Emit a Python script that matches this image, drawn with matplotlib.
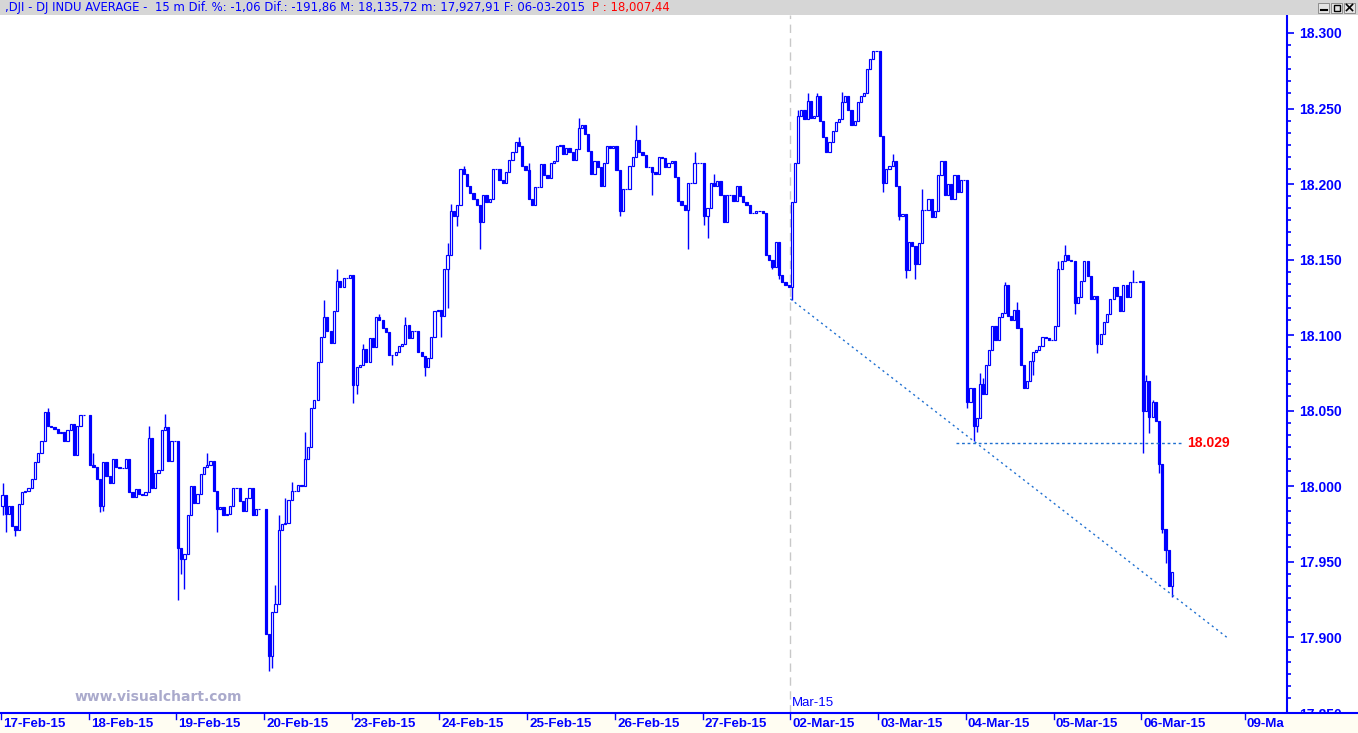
import matplotlib
matplotlib.use("Agg")
import matplotlib.pyplot as plt
from matplotlib.patches import Rectangle
from matplotlib.ticker import FixedLocator

# 15 minute bars, DJI 17-Feb-2015 .. 06-Mar-2015
day_labels = ["17-Feb-15", "18-Feb-15", "19-Feb-15", "20-Feb-15", "23-Feb-15",
              "24-Feb-15", "25-Feb-15", "26-Feb-15", "27-Feb-15", "02-Mar-15",
              "03-Mar-15", "04-Mar-15", "05-Mar-15", "06-Mar-15", "09-Ma"]

first_open = 17987
feb17 = [17994, 17982, 17987, 17974, 17971, 17988, 17996, 17997, 17999, 18005, 18016, 18022, 18030,
         18049, 18040, 18039, 18038, 18035, 18036, 18030, 18037, 18041, 18021, 18040, 18047, 18047]
feb18 = [18014, 18013, 18005, 17987, 18016, 18007, 18002, 18018, 18013, 18012, 18012, 18018, 17996,
         17993, 17998, 17995, 17994, 17996, 18032, 17999, 18009, 18011, 18037, 18039, 18017, 18030, 18030]
feb19 = [17959, 17952, 17955, 17981, 18000, 17989, 17995, 18008, 18013, 18014, 18017, 17997, 17985,
         17986, 17981, 17982, 17987, 17999, 17999, 17990, 17984, 17992, 17999, 17981, 17985, 17985]
feb20 = [17902, 17888, 17917, 17922, 17971, 17975, 17976, 17991, 17997, 17997, 18001, 18000, 18018,
         18026, 18052, 18057, 18082, 18099, 18112, 18103, 18095, 18116, 18136, 18132, 18138, 18138, 18140]
feb23 = [18067, 18079, 18080, 18091, 18082, 18098, 18092, 18112, 18110, 18105, 18102, 18087, 18087,
         18089, 18093, 18094, 18107, 18098, 18103, 18103, 18089, 18086, 18079, 18085, 18099, 18116, 18117]
feb24 = [18113, 18144, 18153, 18182, 18179, 18186, 18210, 18207, 18199, 18194, 18190, 18186, 18175,
         18193, 18188, 18190, 18210, 18210, 18203, 18201, 18208, 18216, 18221, 18228, 18225, 18212, 18209]
feb25 = [18190, 18186, 18198, 18198, 18213, 18206, 18204, 18214, 18215, 18225, 18226, 18220, 18224,
         18221, 18216, 18223, 18237, 18239, 18233, 18222, 18207, 18215, 18211, 18199, 18214, 18225, 18224, 18225]
feb26 = [18209, 18182, 18197, 18197, 18212, 18218, 18229, 18221, 18219, 18211, 18211, 18208, 18207,
         18218, 18217, 18211, 18214, 18215, 18205, 18189, 18186, 18183, 18201, 18201, 18214, 18214, 18214]
feb27 = [18179, 18184, 18201, 18199, 18202, 18193, 18175, 18193, 18193, 18189, 18199, 18192, 18188,
         18186, 18181, 18181, 18182, 18182, 18181, 18153, 18150, 18145, 18162, 18140, 18135, 18133, 18132]
mar02 = [18188, 18214, 18245, 18249, 18243, 18255, 18244, 18245, 18258, 18242, 18231, 18221, 18228,
         18235, 18241, 18243, 18254, 18258, 18249, 18239, 18242, 18254, 18258, 18260, 18276, 18283, 18288, 18288]
mar03 = [18232, 18201, 18210, 18212, 18215, 18199, 18179, 18180, 18143, 18162, 18159, 18147, 18161,
         18183, 18183, 18190, 18178, 18182, 18206, 18215, 18193, 18200, 18190, 18206, 18195, 18203, 18203]
mar04 = [18056, 18065, 18040, 18045, 18068, 18061, 18080, 18090, 18106, 18097, 18112, 18115, 18133,
         18113, 18110, 18117, 18105, 18080, 18065, 18070, 18083, 18089, 18090, 18093, 18099, 18098, 18097, 18097]
mar05 = [18106, 18144, 18149, 18153, 18150, 18149, 18121, 18125, 18136, 18149, 18139, 18124, 18126,
         18094, 18101, 18109, 18114, 18124, 18132, 18126, 18116, 18133, 18125, 18135, 18135, 18135, 18136]
mar06 = [18050, 18070, 18046, 18056, 18043, 18015, 17972, 17958, 17934, 17943]

# (day, bar, price) wick extremes that stick out of the bodies
spikes = [(0, 0, 18002), (0, 0, 17981), (0, 1, 17970), (0, 4, 17967), (0, 14, 18052),
          (1, 1, 18022), (1, 3, 17983), (1, 4, 17984), (1, 18, 18040), (1, 23, 18048),
          (2, 0, 17925), (2, 1, 17942), (2, 2, 17932), (2, 9, 18022), (2, 12, 17970),
          (3, 1, 17878), (3, 2, 17880), (3, 3, 17935), (3, 4, 17981), (3, 6, 17992),
          (3, 8, 18003), (3, 12, 18036), (3, 18, 18123), (3, 22, 18144),
          (4, 0, 18055), (4, 1, 18061), (4, 3, 18094), (4, 8, 18114), (4, 12, 18080),
          (4, 16, 18112), (4, 22, 18073),
          (5, 0, 18099), (5, 2, 18161), (5, 2, 18118), (5, 3, 18187), (5, 5, 18172),
          (5, 7, 18212), (5, 12, 18157), (5, 24, 18231),
          (6, 0, 18214), (6, 16, 18244),
          (7, 1, 18179), (7, 6, 18239), (7, 11, 18193), (7, 22, 18157), (7, 24, 18221),
          (8, 0, 18173), (8, 1, 18164), (8, 3, 18207), (8, 21, 18144), (8, 23, 18137),
          (9, 0, 18123), (9, 2, 18249), (9, 5, 18260), (9, 8, 18260), (9, 16, 18261),
          (10, 0, 18282), (10, 1, 18195), (10, 4, 18220), (10, 6, 18176), (10, 8, 18138),
          (10, 11, 18137), (10, 13, 18197), (10, 19, 18215),
          (11, 0, 18052), (11, 2, 18030), (11, 3, 18036), (11, 4, 18075), (11, 5, 18072),
          (11, 12, 18135), (11, 16, 18122), (11, 21, 18074),
          (12, 1, 18149), (12, 3, 18160), (12, 6, 18114), (12, 13, 18088), (12, 24, 18143),
          (13, 0, 18022), (13, 1, 18074), (13, 2, 18035), (13, 3, 18057), (13, 5, 18009),
          (13, 6, 17969), (13, 7, 17949), (13, 9, 17927)]

closes_by_day = [feb17, feb18, feb19, feb20, feb23, feb24, feb25, feb26, feb27,
                 mar02, mar03, mar04, mar05, mar06]

trend_x = [9.0, 14.0]
trend_y = [18124, 17899]
level_price = 18029
level_x = [10.89, 13.46]

yticks = [17850, 17900, 17950, 18000, 18050, 18100, 18150, 18200, 18250, 18300]

BLUE = "#0000FF"
FONT = "Liberation Sans"

# build OHLC, open = previous close
xs, opens, highs, lows, cls, widths = [], [], [], [], [], []
index = {}
prev = first_open
for d, day in enumerate(closes_by_day):
    step = 1.0 / max(len(day), 27)
    for j, c in enumerate(day):
        index[(d, j)] = len(xs)
        xs.append(d + (j + 0.5) * step)
        widths.append(0.68 * step)
        opens.append(prev)
        cls.append(c)
        highs.append(max(prev, c))
        lows.append(min(prev, c))
        prev = c
for d, j, p in spikes:
    i = index[(d, j)]
    highs[i] = max(highs[i], p)
    lows[i] = min(lows[i], p)

W, H = 1358, 733
fig = plt.figure(figsize=(W / 100, H / 100), dpi=100)
fig.patch.set_facecolor("white")

px_day = 87.72
x0 = -0.01
ax = fig.add_axes([0, 20 / H, 1287 / W, 698 / H])
ax.set_xlim(x0, x0 + 1287 / px_day)
ax.set_ylim(17851.9, 18311.9)
ax.set_facecolor("white")

ax.vlines(xs, lows, highs, color=BLUE, lw=1.0, zorder=2)
bottoms = [min(o, c) for o, c in zip(opens, cls)]
heights = [abs(c - o) for o, c in zip(opens, cls)]
faces = ["white" if c >= o else BLUE for o, c in zip(opens, cls)]
ax.bar(xs, heights, bottom=bottoms, width=widths, color=faces, edgecolor=BLUE,
       linewidth=0.85, zorder=3)

# month separator
ax.axvline(9, color="#C8C8C8", lw=1, ls=(0, (6, 4)), zorder=1)
ax.text(9.02, 0.006, "Mar-15", transform=ax.get_xaxis_transform(), color=BLUE,
        fontsize=9.5, family=FONT, ha="left", va="bottom")

# trend line and level
ax.plot(trend_x, trend_y, color="#1E6FD0", lw=1, ls=(0, (1.5, 2.5)), zorder=4)
ax.plot(level_x, [level_price, level_price], color="#1E6FD0", lw=1, ls=(0, (2, 2)), zorder=4)
ax.text(level_x[1] + 0.06, level_price, f"{level_price / 1000:.3f}", color="#FF0000",
        fontsize=10, fontweight="bold", family=FONT, ha="left", va="center")

ax.yaxis.tick_right()
ax.set_yticks(yticks)
ax.set_yticklabels([f"{v / 1000:.3f}" for v in yticks])
ax.yaxis.set_minor_locator(FixedLocator([t - 8 * k for t in yticks for k in range(1, 6)]))
ax.tick_params(axis="y", which="major", length=5, width=1.2, color=BLUE, pad=4,
               labelcolor=BLUE, labelsize=10)
ax.tick_params(axis="y", which="minor", length=3, width=1.2, color=BLUE)
for lab in ax.get_yticklabels():
    lab.set_fontweight("bold")
    lab.set_family(FONT)
ax.set_xticks([])
for s in ["top", "left", "bottom"]:
    ax.spines[s].set_visible(False)
ax.spines["right"].set_color(BLUE)
ax.spines["right"].set_linewidth(1.5)

# bottom date band
bx = fig.add_axes([0, 0, 1, 20 / H], zorder=5)
bx.set_facecolor("#FFFDF2")
bx.set_xlim(x0, x0 + W / px_day)
bx.set_ylim(0, 1)
for s in ["left", "right", "bottom"]:
    bx.spines[s].set_visible(False)
bx.spines["top"].set_color(BLUE)
bx.spines["top"].set_linewidth(1.5)
bx.set_yticks([])
day_pos = list(range(len(day_labels) - 1)) + [14.18]
bx.set_xticks([])
for p, lab in zip(day_pos, day_labels):
    bx.plot([p, p], [1, 0.72], color=BLUE, lw=1)
    bx.text(p + 0.025, 0.45, lab, color=BLUE, fontsize=9.6, fontweight="bold",
            family=FONT, ha="left", va="center")

# header bar
hx = fig.add_axes([0, 1 - 15 / H, 1, 15 / H], zorder=5)
hx.set_facecolor("#D6D6D6")
hx.set_xlim(0, W)
hx.set_ylim(15, 0)
hx.set_xticks([])
hx.set_yticks([])
for s in hx.spines.values():
    s.set_visible(False)
hx.text(5, 7.5, ",DJI - DJ INDU AVERAGE -  15 m Dif. %: -1,06 Dif.: -191,86 M: 18,135,72 "
        "m: 17,927,91 F: 06-03-2015", color=BLUE, fontsize=8.4, family="DejaVu Sans",
        ha="left", va="center")
hx.text(592, 7.5, "P : 18,007,44", color="#FF0000", fontsize=8.4, family="DejaVu Sans",
        ha="left", va="center")
for bxp in [1318, 1331, 1344]:
    hx.add_patch(Rectangle((bxp, 2.5), 11, 10, facecolor="#E4E4E4", edgecolor="#808080", lw=0.6))
hx.plot([1320.5, 1326.5], [10, 10], color="black", lw=1.5)
hx.add_patch(Rectangle((1333.5, 4.5), 6, 6, facecolor="none", edgecolor="black", lw=1))
hx.plot([1346.5, 1352.5], [4.5, 10.5], color="black", lw=1.2)
hx.plot([1346.5, 1352.5], [10.5, 4.5], color="black", lw=1.2)

fig.text(75 / W, 1 - 697 / H, "www.visualchart.com", color="#AAAACC", fontsize=10,
         fontweight="bold", ha="left", va="center")

fig.savefig("out.png", dpi=100)
